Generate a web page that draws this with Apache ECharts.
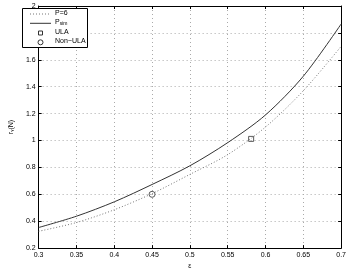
<!DOCTYPE html>
<html>
<head>
<meta charset="utf-8">
<script src="https://cdn.jsdelivr.net/npm/echarts@6/dist/echarts.min.js"></script>
<style>
  html, body { margin: 0; padding: 0; background: #fff; }
  #myChart { width: 349px; height: 275px; }
</style>
</head>
<body>
<div id="myChart"></div>
<script>
// 数据
var epsValues = [0.3, 0.35, 0.4, 0.45, 0.5, 0.55, 0.6, 0.65, 0.7];
var p6Values = [0.325, 0.39, 0.485, 0.605, 0.748, 0.895, 1.10, 1.37, 1.70];
var pSimValues = [0.353, 0.437, 0.544, 0.673, 0.812, 0.984, 1.19, 1.478, 1.866];
var ulaPoint = [0.581, 1.012];
var nonUlaPoint = [0.45, 0.60];
var legendNames = ['P=6', 'P', 'ULA', 'Non\u2212ULA'];

function zip(xs, ys) {
    return xs.map(function (x, i) { return [x, ys[i]]; });
}

var font = 'Liberation Sans';
var myChart = echarts.init(document.getElementById('myChart'));

var axisCommon = {
    type: 'value',
    axisLine: { show: true, onZero: false, lineStyle: { color: '#000', width: 1 } },
    axisTick: { show: true, inside: true, length: 3, lineStyle: { color: '#000' } },
    axisLabel: { color: '#000', fontSize: 7, fontFamily: font, margin: 3 }
};

// 图例 (drawn by hand, MATLAB style box)
var rowY = [14, 23.3, 33, 42.3];
var legendGraphic = [
    { type: 'rect', shape: { x: 22.5, y: 8.5, width: 65, height: 39 }, style: { fill: '#fff', stroke: '#000', lineWidth: 1 }, z: 100 },
    { type: 'line', shape: { x1: 30, y1: rowY[0], x2: 51, y2: rowY[0] }, style: { stroke: '#777', lineWidth: 1, lineDash: [1, 2] }, z: 101 },
    { type: 'line', shape: { x1: 30, y1: rowY[1], x2: 51, y2: rowY[1] }, style: { stroke: '#333', lineWidth: 1 }, z: 101 },
    { type: 'rect', shape: { x: 38.5, y: rowY[2] - 2, width: 4, height: 4 }, style: { fill: 'none', stroke: '#333', lineWidth: 1 }, z: 101 },
    { type: 'circle', shape: { cx: 40.5, cy: rowY[3], r: 2.5 }, style: { fill: 'none', stroke: '#333', lineWidth: 1 }, z: 101 }
];
legendNames.forEach(function (name, i) {
    legendGraphic.push({
        type: 'text', left: 55, top: rowY[i] - 4.5, z: 101,
        style: {
            text: i === 1 ? 'P{sub|sim}' : name,
            fontSize: 7, fontFamily: font, fill: '#000',
            rich: { sub: { fontSize: 5, fontFamily: font, padding: [3, 0, 0, 0] } }
        }
    });
});

myChart.setOption({
    animation: false,
    grid: { left: 22, right: 6, top: 6, bottom: 14, show: false },
    graphic: legendGraphic,
    xAxis: [
        Object.assign({}, axisCommon, {
            min: 0.3, max: 0.7, interval: 0.05,
            name: '\u03b5',
            nameLocation: 'middle',
            nameGap: 11,
            nameTextStyle: { fontSize: 7, fontFamily: font, color: '#000' },
            axisLabel: Object.assign({}, axisCommon.axisLabel, {
                formatter: function (v) { return String(+v.toFixed(2)); }
            }),
            splitLine: { show: true, lineStyle: { color: '#aaa', type: [1, 3], width: 1 } }
        }),
        Object.assign({}, axisCommon, {
            position: 'top', min: 0.3, max: 0.7, interval: 0.05,
            axisLabel: { show: false }, splitLine: { show: false }
        })
    ],
    yAxis: [
        Object.assign({}, axisCommon, {
            min: 0.2, max: 2, interval: 0.2,
            name: 'r\u1d67(N)',
            nameLocation: 'middle',
            nameGap: 14,
            nameRotate: 90,
            nameTextStyle: { fontSize: 7, fontFamily: font, color: '#000' },
            axisLabel: Object.assign({}, axisCommon.axisLabel, {
                formatter: function (v) { return String(+v.toFixed(1)); }
            }),
            splitLine: { show: true, lineStyle: { color: '#aaa', type: [1, 3], width: 1 } }
        }),
        Object.assign({}, axisCommon, {
            position: 'right', min: 0.2, max: 2, interval: 0.2,
            axisLabel: { show: false }, splitLine: { show: false }
        })
    ],
    series: [
        {
            name: 'P=6', type: 'line', smooth: 0.3, symbol: 'none',
            data: zip(epsValues, p6Values),
            lineStyle: { color: '#777', width: 1, type: [1, 2] }
        },
        {
            name: 'Psim', type: 'line', smooth: 0.3, symbol: 'none',
            data: zip(epsValues, pSimValues),
            lineStyle: { color: '#333', width: 1 }
        },
        {
            name: 'ULA', type: 'scatter', symbol: 'rect', symbolSize: 5,
            data: [ulaPoint],
            itemStyle: { color: 'none', borderColor: '#333', borderWidth: 1 }
        },
        {
            name: 'Non\u2212ULA', type: 'scatter', symbol: 'circle', symbolSize: 6,
            data: [nonUlaPoint],
            itemStyle: { color: 'none', borderColor: '#333', borderWidth: 1 }
        }
    ]
});
</script>
</body>
</html>
